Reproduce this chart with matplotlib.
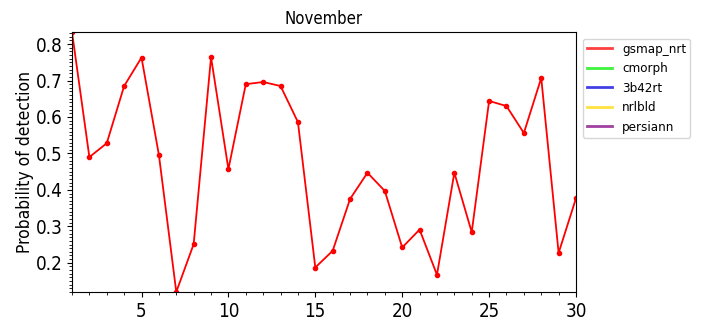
import numpy as np
import matplotlib
matplotlib.use("Agg")
import matplotlib.pyplot as plt
from matplotlib.ticker import MultipleLocator
from matplotlib.lines import Line2D

plt.rcParams['font.family'] = ['DejaVu Sans']
plt.rcParams['font.stretch'] = 'condensed'

days = list(range(1, 31))
gsmap_nrt = [0.833, 0.490, 0.528, 0.685, 0.763, 0.496, 0.120, 0.251, 0.764, 0.457,
             0.690, 0.696, 0.685, 0.586, 0.187, 0.233, 0.375, 0.447, 0.397, 0.242,
             0.291, 0.167, 0.447, 0.284, 0.644, 0.630, 0.556, 0.707, 0.227, 0.377]
series_names = ["gsmap_nrt", "cmorph", "3b42rt", "nrlbld", "persiann"]
series_colors = ["#ff0000", "#00ee00", "#0000dd", "#ffd700", "#800080"]

fig = plt.figure(figsize=(7.2, 3.24), dpi=100)
ax = fig.add_axes([0.1, 0.099, 0.7, 0.802])
ax.plot(days, gsmap_nrt, color="red", marker="o", markersize=3, linewidth=1.3)
ax.set_xlim(1, 30)
ax.set_ylim(min(gsmap_nrt), max(gsmap_nrt))
ax.xaxis.set_major_locator(MultipleLocator(5))
ax.xaxis.set_minor_locator(MultipleLocator(1))
ax.yaxis.set_major_locator(MultipleLocator(0.1))
ax.yaxis.set_minor_locator(MultipleLocator(0.01))
ax.tick_params(labelsize=13.5)
ax.set_ylabel("Probability of detection", fontsize=12.5, labelpad=1)
ax.set_title("November", fontsize=12)

handles = [Line2D([0], [0], color=c, alpha=0.75, linewidth=2) for c in series_colors]
ax.legend(handles, series_names, loc="upper left", bbox_to_anchor=(1.0, 1.0),
          fontsize=9.5, handlelength=1.9, borderpad=0.3)
fig.savefig("out.png", dpi=100)
